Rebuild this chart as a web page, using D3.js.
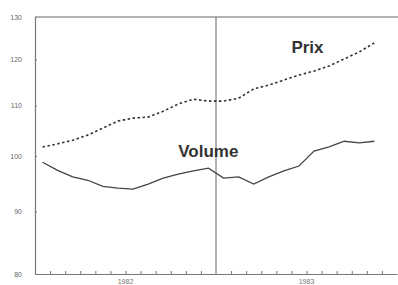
<!DOCTYPE html>
<html>
<head>
<meta charset="utf-8">
<script src="https://cdn.jsdelivr.net/npm/d3@7"></script>
<style>
  body { margin: 0; background: #fff; }
  .axis path, .axis line { stroke: #777; }
  .axis text { fill: #666; font-family: "Liberation Sans", Arial, sans-serif; font-size: 7px; }
  .label { font-family: "Liberation Sans", Arial, sans-serif; font-weight: bold; fill: #333; }
</style>
</head>
<body>
<svg id="chart"></svg>
<script>
// Monthly index values, two years (month centres 0.5 .. 22.5)
const months = d3.range(23).map(i => i + 0.5);
const prix   = [101.7, 102.3, 103.0, 104.0, 105.4, 106.8, 107.4, 107.6, 108.8, 110.3, 111.3, 110.9,
                110.9, 111.5, 113.5, 114.3, 115.4, 116.5, 117.4, 118.5, 120.1, 121.7, 123.8];
const volume = [98.8, 97.3, 96.1, 95.5, 94.4, 94.1, 93.9, 94.8, 95.9, 96.6, 97.2, 97.7,
                95.9, 96.1, 94.8, 96.1, 97.2, 98.1, 100.9, 101.7, 102.8, 102.5, 102.8];
const yTicks = [80, 90, 100, 110, 120, 130];
const years = ["1982", "1983"];

const config = {
  width: 398,
  height: 285,
  margin: {top: 17, right: 0, bottom: 11, left: 35}
};

const svg = d3.select('#chart')
    .attr('width', config.width)
    .attr('height', config.height);

const innerW = config.width - config.margin.left - config.margin.right;
const innerH = config.height - config.margin.top - config.margin.bottom;

const chart = svg.append('g')
    .attr('transform', `translate(${config.margin.left},${config.margin.top})`);

// Scales: months on x, log scale on y
const xScale = d3.scaleLinear().domain([0, 24]).range([0, innerW - 1]);
const yScale = d3.scaleLog().domain([80, 130]).range([innerH, 0]);

// y axis
const yAxis = d3.axisLeft(yScale)
    .tickValues(yTicks)
    .tickFormat(d3.format('d'))
    .tickSize(-2)
    .tickPadding(13);

chart.append('g')
    .attr('class', 'axis y-axis')
    .call(yAxis)
    .call(g => g.select('.domain').attr('stroke-width', 1.2));

// x axis with monthly ticks
const xAxis = d3.axisBottom(xScale)
    .tickValues(d3.range(1, 24).filter(d => d !== 12))
    .tickFormat('')
    .tickSize(-3)
    .tickSizeOuter(0);

chart.append('g')
    .attr('class', 'axis x-axis')
    .attr('transform', `translate(0,${innerH})`)
    .call(xAxis)
    .call(g => g.select('.domain').attr('stroke-width', 1.2));

// top frame line
chart.append('line')
    .attr('x1', 0).attr('x2', innerW)
    .attr('y1', yScale(130)).attr('y2', yScale(130))
    .attr('stroke', '#999')
    .attr('stroke-width', 1.5);

// year separator
chart.append('line')
    .attr('x1', xScale(12)).attr('x2', xScale(12))
    .attr('y1', 0).attr('y2', innerH)
    .attr('stroke', '#666')
    .attr('stroke-width', 1);

// year labels under the axis
chart.selectAll('.year')
    .data(years)
    .join('text')
    .attr('class', 'year')
    .attr('x', (d, i) => xScale(6 + i * 12))
    .attr('y', innerH + 9.5)
    .attr('text-anchor', 'middle')
    .attr('fill', '#777')
    .style('font-family', '"Liberation Sans", Arial, sans-serif')
    .style('font-size', '7px')
    .text(d => d);

const line = d3.line()
    .x((d, i) => xScale(months[i]))
    .y(d => yScale(d));

chart.append('path')
    .datum(prix)
    .attr('fill', 'none')
    .attr('stroke', '#333')
    .attr('stroke-width', 1.6)
    .attr('stroke-dasharray', '2.5,2.5')
    .attr('d', line);

chart.append('path')
    .datum(volume)
    .attr('fill', 'none')
    .attr('stroke', '#444')
    .attr('stroke-width', 1.3)
    .attr('d', line);

// series labels
chart.append('text')
    .attr('class', 'label')
    .attr('x', xScale(17.0))
    .attr('y', yScale(121.4))
    .style('font-size', '17px')
    .text('Prix');

chart.append('text')
    .attr('class', 'label')
    .attr('x', xScale(9.5))
    .attr('y', yScale(99.8))
    .style('font-size', '17px')
    .text('Volume');
</script>
</body>
</html>
